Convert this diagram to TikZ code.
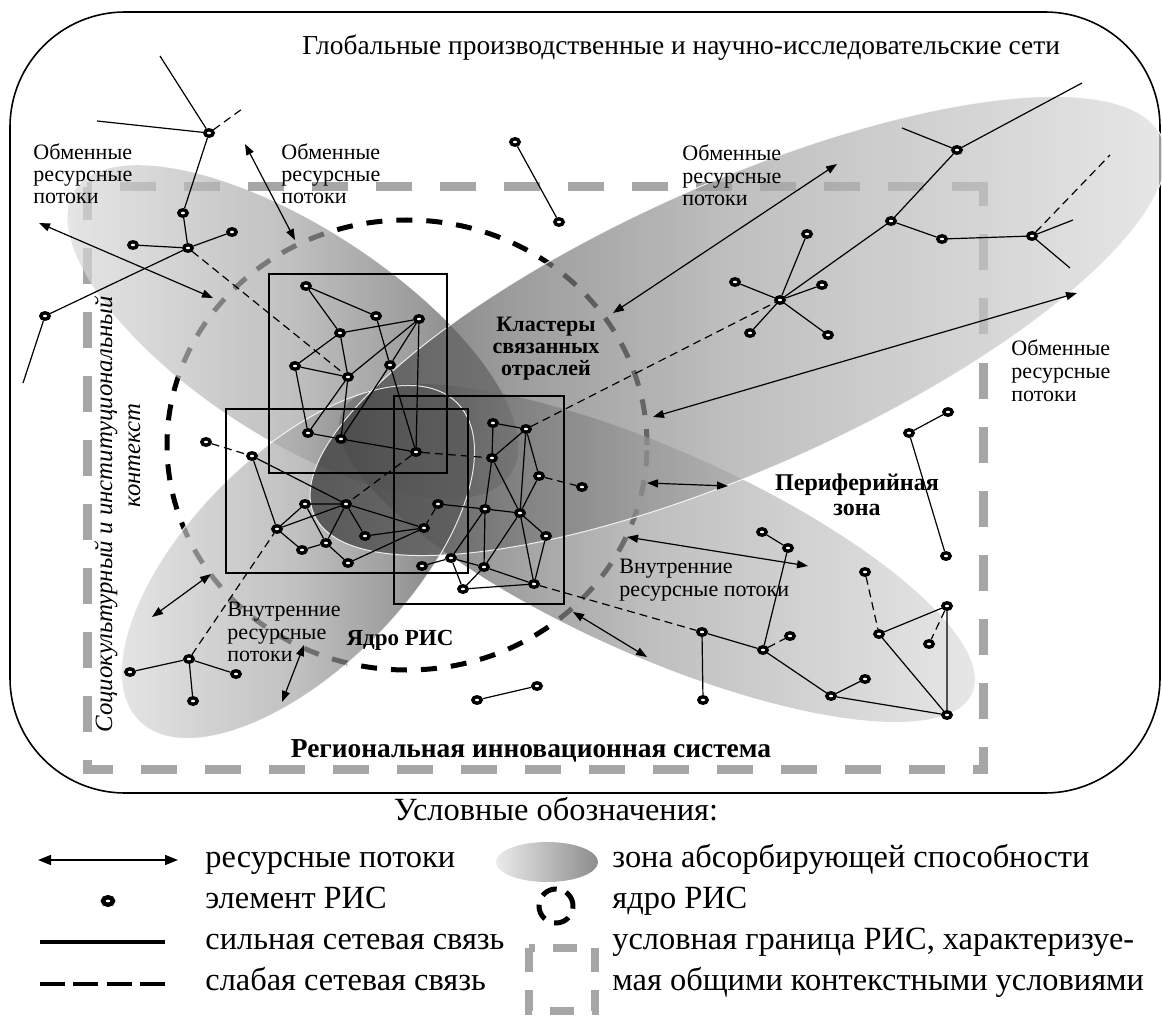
\documentclass[tikz,border=0pt]{standalone}
\usepackage{fontspec}
\setmainfont{Liberation Serif}
\usetikzlibrary{arrows.meta,shapes.geometric}
\pgfdeclarehorizontalshading{zoneLD}{100bp}{color(0bp)=(black!12); color(25bp)=(black!12); color(50bp)=(black!35); color(62.5bp)=(black!55); color(75bp)=(black!85); color(100bp)=(black!85)}
\pgfdeclarehorizontalshading{zoneDL}{100bp}{color(0bp)=(black!85); color(25bp)=(black!85); color(37.5bp)=(black!55); color(50bp)=(black!35); color(75bp)=(black!12); color(100bp)=(black!12)}
\begin{document}
\begin{tikzpicture}[x=0.5pt,y=-0.5pt,
 elem/.style={ellipse,draw=black,fill=white,line width=1.7pt,minimum width=4.2pt,minimum height=3.2pt,inner sep=0pt},
 strong/.style={line width=0.6pt},
 weak/.style={line width=0.6pt,dash pattern=on 4pt off 2.5pt},
 flow/.style={line width=0.6pt,{Triangle[length=5.5pt,width=4pt]}-{Triangle[length=5.5pt,width=4pt]}},
 sq/.style={line width=0.6pt},
 bnd/.style={line width=4.5pt,draw=black!35,dash pattern=on 18pt off 14pt},
 coredash/.style={line width=2.5pt,dash pattern=on 8pt off 7pt},
 zone/.style={fill opacity=0.7},
 lbl/.style={font=\fontsize{11}{13}\selectfont,inner sep=0pt,anchor=base west},
 blbl/.style={font=\bfseries\fontsize{11}{13}\selectfont,inner sep=0pt,anchor=base},
 leg/.style={font=\fontsize{16.2}{19}\selectfont,inner sep=0pt,anchor=base west},
]
\useasboundingbox (0,0) rectangle (1162,1016);
\fill[white] (0,0) rectangle (1162,1016);

% outer frame
\draw[line width=0.8pt, rounded corners=57.5pt] (10,12) rectangle (1160,793);

% RIS boundary
\draw[bnd] (987.5,187) -- (87,187);
\draw[bnd, dash phase=6pt] (983,182.5) -- (983,769);
\draw[bnd, dash phase=10.75pt] (987.5,769) -- (82.5,769);
\draw[bnd, dash phase=11.25pt] (87,773.5) -- (87,187);

% core circle
\draw[coredash] (407,445) ellipse [x radius=120pt, y radius=112.5pt];

% absorptive capacity zones
\shade[zone, shading=zoneLD, rotate around={-33:(293,332)}] (293,332) ellipse [x radius=130pt, y radius=52.5pt];
\shade[zone, shading=zoneDL, rotate around={-24:(657,553)}] (657,553) ellipse [x radius=172.5pt, y radius=51.5pt];
\shade[zone, shading=zoneLD, rotate around={45:(298,562)}] (298,562) ellipse [x radius=112.5pt, y radius=54pt];
\shade[zone, shading=zoneDL, rotate around={24:(738,326)}] (738,326) ellipse [x radius=232pt, y radius=71.5pt];
\draw[white, line width=0.5pt, draw opacity=0.85, rotate around={24:(738,326)}] (738,326) ellipse [x radius=232pt, y radius=71.5pt];
\draw[white, line width=0.5pt, draw opacity=0.85, rotate around={45:(298,562)}] (298,562) ellipse [x radius=112.5pt, y radius=54pt];

% cluster squares
\draw[sq] (269,274) rectangle (447,473);
\draw[sq] (226,409) rectangle (468,573);
\draw[sq] (394,396) rectangle (564,604);

% ---- elements ----
\node[elem] (n1) at (209,133) {};
\node[elem] (n2) at (183,213) {};
\node[elem] (n3) at (188,248) {};
\node[elem] (n4) at (133,245) {};
\node[elem] (n5) at (232,232) {};
\node[elem] (n6) at (45,316) {};
\coordinate (f1) at (160,56);
\coordinate (f2) at (97,121);
\coordinate (f3) at (242,109);
\coordinate (f4) at (23,383);
\node[elem] (t1) at (515,142) {};
\node[elem] (t2) at (559,222) {};
\node[elem] (q1) at (306,286) {};
\node[elem] (q2) at (376,316) {};
\node[elem] (q3) at (419,319) {};
\node[elem] (q4) at (340,333) {};
\node[elem] (q5) at (295,366) {};
\node[elem] (q6) at (390,365) {};
\node[elem] (q7) at (348,377) {};
\node[elem] (q8) at (308,433) {};
\node[elem] (q9) at (341,439) {};
\node[elem] (q10) at (416,452) {};
\node[elem] (s0) at (206,442) {};
\node[elem] (s1) at (252,456) {};
\node[elem] (s2) at (305,504) {};
\node[elem] (s3) at (346,504) {};
\node[elem] (s4) at (277,529) {};
\node[elem] (s5) at (302,550) {};
\node[elem] (s6) at (326,543) {};
\node[elem] (s7) at (365,536) {};
\node[elem] (s8) at (348,563) {};
\node[elem] (b) at (493,423) {};
\node[elem] (c) at (526,429) {};
\node[elem] (d) at (492,458) {};
\node[elem] (e) at (539,476) {};
\node[elem] (f) at (582,487) {};
\node[elem] (g) at (438,504) {};
\node[elem] (h) at (485,509) {};
\node[elem] (i) at (520,513) {};
\node[elem] (j) at (424,528) {};
\node[elem] (k) at (546,536) {};
\node[elem] (l) at (451,558) {};
\node[elem] (m) at (422,566) {};
\node[elem] (n) at (484,567) {};
\node[elem] (o) at (463,589) {};
\node[elem] (p) at (534,584) {};
\node[elem] (r0) at (780,300) {};
\node[elem] (r1) at (735,282) {};
\node[elem] (r2) at (807,234) {};
\node[elem] (r3) at (822,285) {};
\node[elem] (r4) at (828,335) {};
\node[elem] (r5) at (750,333) {};
\node[elem] (r6) at (891,221) {};
\node[elem] (r7) at (957,150) {};
\node[elem] (r8) at (942,239) {};
\node[elem] (r9) at (1032,236) {};
\coordinate (rf1) at (1082,83);
\coordinate (rf2) at (902,128);
\coordinate (rf3) at (1073,220);
\coordinate (rf4) at (1070,268);
\coordinate (rf5) at (1110,155);
\node[elem] (p1) at (909,433) {};
\node[elem] (p2) at (948,412) {};
\node[elem] (p3) at (946,556) {};
\node[elem] (w1) at (762,532) {};
\node[elem] (w2) at (788,548) {};
\node[elem] (w3) at (702,632) {};
\node[elem] (w4) at (763,650) {};
\node[elem] (w5) at (790,636) {};
\node[elem] (w6) at (703,700) {};
\node[elem] (w7) at (831,696) {};
\node[elem] (w8) at (865,679) {};
\node[elem] (w9) at (865,572) {};
\node[elem] (w10) at (879,634) {};
\node[elem] (w11) at (947,606) {};
\node[elem] (w12) at (929,644) {};
\node[elem] (w13) at (947,715) {};
\node[elem] (ll1) at (130,672) {};
\node[elem] (ll2) at (189,659) {};
\node[elem] (ll3) at (236,674) {};
\node[elem] (ll4) at (193,701) {};
\node[elem] (bm1) at (477,700) {};
\node[elem] (bm2) at (537,686) {};

% ---- strong links ----
\draw[strong] (n1)--(f1) (n1)--(f2) (n1)--(n2) (n2)--(n3) (n3)--(n4) (n3)--(n5) (n3)--(n6) (n6)--(f4);
\draw[strong] (t1)--(t2);
\draw[strong] (q1)--(q2) (q1)--(q4) (q4)--(q3) (q2)--(q6) (q6)--(q10) (q3)--(q6) (q6)--(q9)
  (q3)--(q7) (q3)--(q10) (q4)--(q5) (q4)--(q7) (q5)--(q7) (q5)--(q8) (q7)--(q8) (q7)--(q9)
  (q8)--(q9) (q9)--(q10);
\draw[strong] (s1)--(s4) (s1)--(s3) (s2)--(s3) (s4)--(s2) (s4)--(s3) (s4)--(s5) (s2)--(s6)
  (s3)--(s6) (s6)--(s5) (s6)--(s8) (s3)--(s7) (j)--(s3) (j)--(s7) (j)--(s8);
\draw[strong] (b)--(c) (b)--(d) (c)--(d) (c)--(i) (c)--(e) (e)--(i) (d)--(i) (d)--(h)
  (h)--(g) (h)--(i) (h)--(n) (h)--(l) (i)--(n) (i)--(k) (i)--(p) (k)--(p) (l)--(n)
  (l)--(o) (l)--(m) (n)--(o) (n)--(p) (o)--(p);
\draw[strong] (r1)--(r0) (r2)--(r0) (r3)--(r0) (r4)--(r0) (r5)--(r0) (r6)--(r0)
  (r6)--(r7) (r7)--(rf1) (r7)--(rf2) (r6)--(r8) (r8)--(r9) (r9)--(rf3) (r9)--(rf4);
\draw[strong] (p1)--(p2) (p1)--(p3);
\draw[strong] (w1)--(w2) (w2)--(w4) (w3)--(w4) (w3)--(w6) (w4)--(w7) (w7)--(w8) (w7)--(w13)
  (w10)--(w11) (w10)--(w13) (w11)--(w13);
\draw[strong] (ll1)--(ll2) (ll2)--(ll3) (ll2)--(ll4);
\draw[strong] (bm1)--(bm2);

% ---- weak links ----
\draw[weak] (n1)--(f3) (n3)--(q7) (q10)--(d) (q10)--(s3) (s0)--(s1) (ll2)--(s4)
  (g)--(j) (e)--(f) (c)--(r0) (p)--(w3) (w4)--(w5) (w9)--(w10) (w11)--(w12) (r9)--(rf5);

% ---- resource flows ----
\coordinate (a1s) at (39,223);  \coordinate (a1e) at (213,298);
\coordinate (a2s) at (245,144); \coordinate (a2e) at (295,240);
\coordinate (a3s) at (613,313); \coordinate (a3e) at (837,164);
\coordinate (a4s) at (653,417); \coordinate (a4e) at (1077,293);
\coordinate (a5s) at (647,483); \coordinate (a5e) at (728,486);
\coordinate (a6s) at (627,537); \coordinate (a6e) at (808,566);
\coordinate (a7s) at (573,612); \coordinate (a7e) at (647,657);
\coordinate (a8s) at (152,617); \coordinate (a8e) at (211,574);
\coordinate (a9s) at (282,702); \coordinate (a9e) at (304,645);
\draw[flow] (a1s)--(a1e);
\draw[flow] (a2s)--(a2e);
\draw[flow] (a3s)--(a3e);
\draw[flow] (a4s)--(a4e);
\draw[flow] (a5s)--(a5e);
\draw[flow] (a6s)--(a6e);
\draw[flow] (a7s)--(a7e);
\draw[flow] (a8s)--(a8e);
\draw[flow] (a9s)--(a9e);

% ---- texts ----
\node[anchor=base west, inner sep=0pt, font=\fontsize{13.7}{16}\selectfont] (title) at (302,55) {Глобальные производственные и научно-исследовательские сети};

\node[lbl] (ob1a) at (33,160) {Обменные};
\node[lbl] (ob1b) at (33,182) {ресурсные};
\node[lbl] (ob1c) at (33,204) {потоки};
\node[lbl] (ob2a) at (281,160) {Обменные};
\node[lbl] (ob2b) at (281,182) {ресурсные};
\node[lbl] (ob2c) at (281,204) {потоки};
\node[lbl] (ob3a) at (682,161) {Обменные};
\node[lbl] (ob3b) at (682,184) {ресурсные};
\node[lbl] (ob3c) at (682,206) {потоки};
\node[lbl] (ob4a) at (1011,356) {Обменные};
\node[lbl] (ob4b) at (1011,379) {ресурсные};
\node[lbl] (ob4c) at (1011,401) {потоки};
\node[lbl] (vn1a) at (227,616) {Внутренние};
\node[lbl] (vn1b) at (227,639) {ресурсные};
\node[lbl] (vn1c) at (227,661) {потоки};
\node[lbl] (vn2a) at (619,573) {Внутренние};
\node[lbl] (vn2b) at (619,596) {ресурсные потоки};

\node[blbl] (kl1) at (546,331) {Кластеры};
\node[blbl] (kl2) at (546,353) {связанных};
\node[blbl] (kl3) at (546,375) {отраслей};
\node[blbl, font=\bfseries\fontsize{12}{14}\selectfont] (pz1) at (857,490) {Периферийная};
\node[blbl, font=\bfseries\fontsize{12}{14}\selectfont] (pz2) at (857,515) {зона};
\node[blbl, font=\bfseries\fontsize{11.5}{14}\selectfont] (core) at (400,645) {Ядро РИС};
\node[blbl, font=\bfseries\fontsize{13.7}{16}\selectfont] (ris) at (531,757) {Региональная инновационная система};

\node[rotate=90, anchor=base west, inner sep=0pt, font=\itshape\fontsize{12.4}{14}\selectfont] (ctx1) at (112,733) {Социокультурный и институциональный};
\node[rotate=90, anchor=base west, inner sep=0pt, font=\itshape\fontsize{12.4}{14}\selectfont] (ctx2) at (140,508) {контекст};

% ---- legend ----
\node[leg, anchor=base] (legt) at (556,820) {Условные обозначения:};
\coordinate (la1) at (38,860); \coordinate (la2) at (178,860);
\draw[line width=0.8pt,{Triangle[length=6.5pt,width=5pt]}-{Triangle[length=6.5pt,width=5pt]}] (la1)--(la2);
\node[leg] (lt1) at (205,867) {ресурсные потоки};
\node[elem, line width=2.2pt, minimum width=5pt, minimum height=3.8pt] (le) at (108,901) {};
\node[leg] (lt2) at (205,908) {элемент РИС};
\coordinate (ls1) at (40,942); \coordinate (ls2) at (165,942);
\draw[line width=1.6pt] (ls1)--(ls2);
\node[leg] (lt3) at (205,949) {сильная сетевая связь};
\coordinate (lw1) at (40,984); \coordinate (lw2) at (165,984);
\draw[line width=1.6pt, dash pattern=on 12.5pt off 4.2pt] (lw1)--(lw2);
\node[leg] (lt4) at (205,990) {слабая сетевая связь};
\shade[left color=black!8, right color=black!45] (547,862) ellipse [x radius=25.5pt, y radius=10pt];
\node[leg] (lt5) at (612,867) {зона абсорбирующей способности};
\draw[line width=2.5pt, dash pattern=on 8pt off 5pt] (556,906) circle [radius=8.5pt];
\node[leg] (lt6) at (612,908) {ядро РИС};
\draw[line width=4pt, draw=black!35, dash pattern=on 12pt off 9pt] (529,948) rectangle (595,1011);
\node[leg] (lt7) at (612,949) {условная граница РИС, характеризуе-};
\node[leg] (lt8) at (612,990) {мая общими контекстными условиями};
\end{tikzpicture}
\end{document}
